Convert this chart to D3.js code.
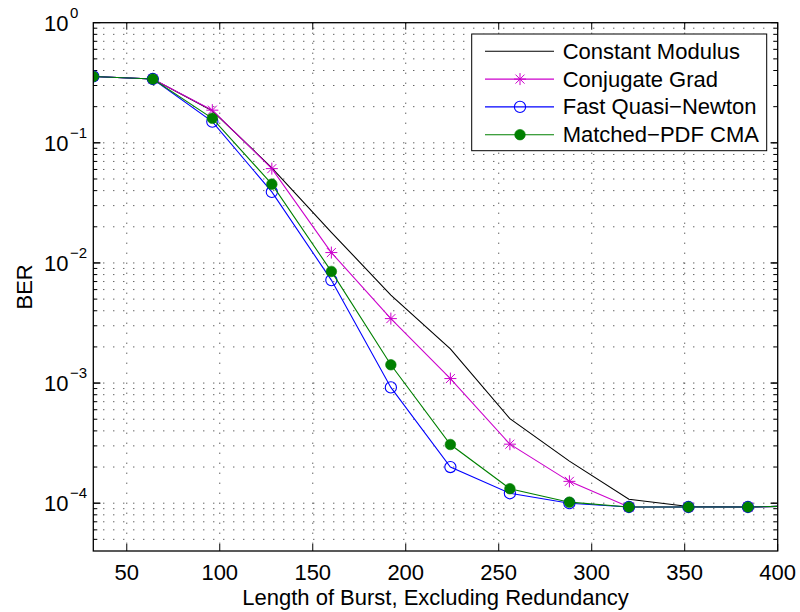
<!DOCTYPE html>
<html>
<head>
<meta charset="utf-8">
<script src="https://cdn.jsdelivr.net/npm/d3@7"></script>
<style>
  body { margin: 0; background: #fff; }
  text { font-family: "Liberation Sans", Arial, sans-serif; fill: #000; }
</style>
</head>
<body>
<div id="chart"></div>
<script>
// BER vs burst length, log y axis

const width = 800,
    height = 612,
    margin = ({ top: 22.7, right: 22.3, bottom: 61, left: 93.3 });

// data
const burstLen = [32, 64, 96, 128, 160, 192, 224, 256, 288, 320, 352, 384, 416];
const constMod = [0.357, 0.34, 0.185, 0.062, 0.018, 0.0054, 0.00193, 5.05e-4, 2.24e-4, 1.08e-4, 9.4e-5, 9.3e-5, 9.5e-5];
const conjGrad = [0.357, 0.34, 0.187, 0.061, 0.0122, 0.00344, 0.00109, 3.1e-4, 1.52e-4, 9.3e-5, 9.3e-5, 9.3e-5, 9.5e-5];
const fastQN   = [0.357, 0.34, 0.15, 0.039, 0.0072, 9.2e-4, 2.0e-4, 1.21e-4, 1.0e-4, 9.3e-5, 9.3e-5, 9.3e-5, 9.5e-5];
const matchPdf = [0.357, 0.34, 0.16, 0.0453, 0.0085, 0.00142, 3.08e-4, 1.32e-4, 1.02e-4, 9.3e-5, 9.3e-5, 9.3e-5, 9.5e-5];

const seriesNames = ["Constant Modulus", "Conjugate Grad", "Fast Quasi\u2212Newton", "Matched\u2212PDF CMA"];
const xTicks = [50, 100, 150, 200, 250, 300, 350, 400];
const yMajor = [1e-4, 1e-3, 1e-2, 1e-1, 1];
const yExp = ["\u22124", "\u22123", "\u22122", "\u22121", "0"];

const series = [
  { name: seriesNames[0], values: constMod, color: "#000000", marker: "none" },
  { name: seriesNames[1], values: conjGrad, color: "#cc00cc", marker: "star" },
  { name: seriesNames[2], values: fastQN, color: "#0000ff", marker: "circle" },
  { name: seriesNames[3], values: matchPdf, color: "#008000", marker: "dot" }
];

const svg = d3.select("#chart")
  .append("svg")
  .attr("width", width)
  .attr("height", height);

const x = d3.scaleLinear()
  .domain([32, 400])
  .range([margin.left, width - margin.right]);

const y = d3.scaleLog()
  .domain([4e-5, 1])
  .range([height - margin.bottom, margin.top]);

const x0 = margin.left, x1 = width - margin.right;
const y0 = height - margin.bottom, y1 = margin.top;

svg.append("defs").append("clipPath")
  .attr("id", "plot-clip")
  .append("rect")
  .attr("x", x0).attr("y", y1)
  .attr("width", x1 - x0).attr("height", y0 - y1);

// grid
const allY = y.ticks().filter(v => v > 4e-5 && v < 1);
const grid = svg.append("g")
  .attr("stroke", "#222")
  .attr("stroke-width", 1)
  .attr("stroke-dasharray", "1,9");

grid.selectAll("line.h")
  .data(allY)
  .join("line")
  .attr("class", "h")
  .attr("x1", x0).attr("x2", x1)
  .attr("y1", d => y(d)).attr("y2", d => y(d));

grid.selectAll("line.v")
  .data(xTicks.filter(d => d < 400))
  .join("line")
  .attr("class", "v")
  .attr("x1", d => x(d)).attr("x2", d => x(d))
  .attr("y1", y1).attr("y2", y0);

// ticks
const ticks = svg.append("g").attr("stroke", "#000").attr("stroke-width", 1);
xTicks.forEach(t => {
  ticks.append("line").attr("x1", x(t)).attr("x2", x(t)).attr("y1", y0).attr("y2", y0 - 7);
  ticks.append("line").attr("x1", x(t)).attr("x2", x(t)).attr("y1", y1).attr("y2", y1 + 7);
});
allY.forEach(v => {
  const len = yMajor.includes(v) ? 7 : 4;
  ticks.append("line").attr("x1", x0).attr("x2", x0 + len).attr("y1", y(v)).attr("y2", y(v));
  ticks.append("line").attr("x1", x1).attr("x2", x1 - len).attr("y1", y(v)).attr("y2", y(v));
});
yMajor.forEach(v => {
  ticks.append("line").attr("x1", x0).attr("x2", x0 + 7).attr("y1", y(v)).attr("y2", y(v));
  ticks.append("line").attr("x1", x1).attr("x2", x1 - 7).attr("y1", y(v)).attr("y2", y(v));
});

// series
const line = d3.line()
  .x((d, i) => x(burstLen[i]))
  .y(d => y(d));

const plot = svg.append("g").attr("clip-path", "url(#plot-clip)");

function drawMarker(g, type, color, cx, cy) {
  if (type === "star") {
    const s = 6, d = 4.5;
    const p = `M${cx - s},${cy}L${cx + s},${cy}M${cx},${cy - s}L${cx},${cy + s}` +
      `M${cx - d},${cy - d}L${cx + d},${cy + d}M${cx - d},${cy + d}L${cx + d},${cy - d}`;
    g.append("path").attr("d", p).attr("stroke", color).attr("stroke-width", 1).attr("fill", "none");
  } else if (type === "circle") {
    g.append("circle").attr("cx", cx).attr("cy", cy).attr("r", 5.6)
      .attr("fill", "none").attr("stroke", color).attr("stroke-width", 1.1);
  } else if (type === "dot") {
    g.append("circle").attr("cx", cx).attr("cy", cy).attr("r", 5.3)
      .attr("fill", color).attr("stroke", color).attr("stroke-width", 0.6);
  }
}

series.forEach(s => {
  const g = plot.append("g");
  g.append("path")
    .datum(s.values)
    .attr("d", line)
    .attr("fill", "none")
    .attr("stroke", s.color)
    .attr("stroke-width", 1.1);
  s.values.forEach((v, i) => {
    if (burstLen[i] <= 400) drawMarker(g, s.marker, s.color, x(burstLen[i]), y(v));
  });
});

// frame
svg.append("rect")
  .attr("x", x0).attr("y", y1)
  .attr("width", x1 - x0).attr("height", y0 - y1)
  .attr("fill", "none")
  .attr("stroke", "#000")
  .attr("stroke-width", 1.3);

// tick labels
svg.append("g").selectAll("text")
  .data(xTicks)
  .join("text")
  .attr("x", d => x(d))
  .attr("y", 580)
  .attr("text-anchor", "middle")
  .attr("font-size", 22)
  .text(d => d);

yMajor.forEach((v, i) => {
  svg.append("text")
    .attr("x", 68.5).attr("y", y(v) + 8)
    .attr("text-anchor", "end")
    .attr("font-size", 22)
    .text("10");
  svg.append("text")
    .attr("x", 70).attr("y", y(v) - 5)
    .attr("font-size", 15)
    .text(yExp[i]);
});

// axis labels
svg.append("text")
  .attr("x", (x0 + x1) / 2)
  .attr("y", 605)
  .attr("text-anchor", "middle")
  .attr("font-size", 22)
  .text("Length of Burst, Excluding Redundancy");

svg.append("text")
  .attr("transform", `translate(31.5,${(y0 + y1) / 2}) rotate(-90)`)
  .attr("text-anchor", "middle")
  .attr("font-size", 22)
  .text("BER");

// legend
const legend = svg.append("g");
legend.append("rect")
  .attr("x", 471.7).attr("y", 34)
  .attr("width", 295).attr("height", 116.7)
  .attr("fill", "#fff")
  .attr("stroke", "#000")
  .attr("stroke-width", 1);

series.forEach((s, i) => {
  const ly = 51.3 + i * 27.8;
  const g = legend.append("g");
  g.append("line")
    .attr("x1", 485).attr("x2", 554)
    .attr("y1", ly).attr("y2", ly)
    .attr("stroke", s.color)
    .attr("stroke-width", 1.1);
  drawMarker(g, s.marker, s.color, 520, ly);
  g.append("text")
    .attr("x", 562.7)
    .attr("y", ly + 7.5)
    .attr("font-size", 22)
    .text(s.name);
});
</script>
</body>
</html>
